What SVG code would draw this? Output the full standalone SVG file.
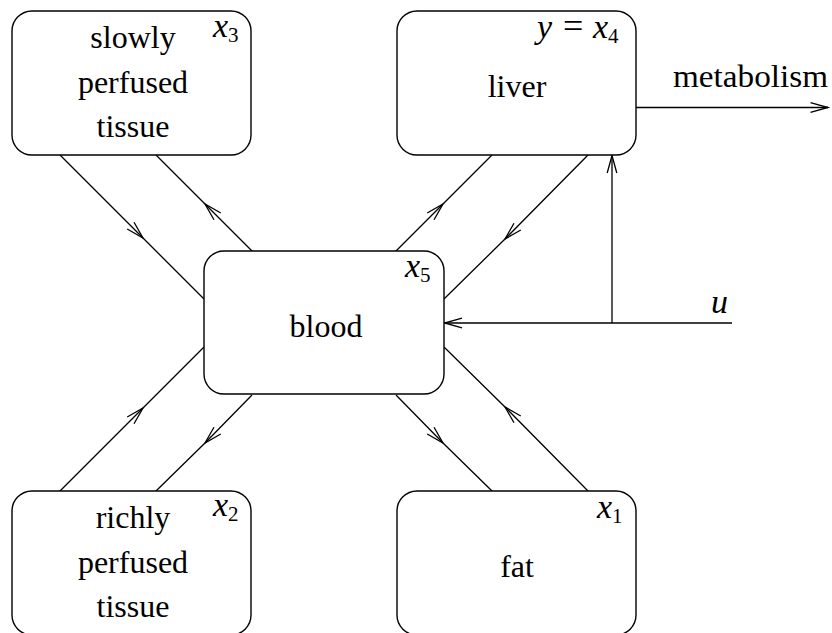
<svg xmlns="http://www.w3.org/2000/svg" width="832" height="633" viewBox="0 0 832 633" font-family="'Liberation Serif', 'DejaVu Serif', serif">
<defs>
<marker id="ah" markerUnits="userSpaceOnUse" markerWidth="40" markerHeight="40" viewBox="-20 -20 40 40" refX="0" refY="0" orient="auto" overflow="visible">
<path d="M-17.5,-4.8 L0,0 L-17.5,4.8" fill="none" stroke="#000" stroke-width="1.3"/>
</marker>
</defs>
<style>
.box{fill:#fff;stroke:#000;stroke-width:1.4}
.t{font-size:32px;fill:#000;text-anchor:middle}
.m{font-size:34px;font-style:italic;fill:#000}
.s{font-size:21px;font-style:normal;fill:#000}
.e{font-size:36px;font-style:normal;fill:#000}
.c{fill:none;stroke:#000;stroke-width:1.3}
.a{marker-mid:url(#ah)}
.ae{marker-end:url(#ah)}
</style>
<rect width="832" height="633" fill="#fff"/>
<g id="connectors">
<path class="c a" d="M60,155 L143,238 L204,299"/>
<path class="c a" d="M252,251 L205,204 L156,155"/>
<path class="c a" d="M396,251 L443,204 L492,155"/>
<path class="c a" d="M588,155 L505,239 L444,299"/>
<path class="c a" d="M60,491 L143,408 L204,347"/>
<path class="c a" d="M252,395 L205,443 L156,491"/>
<path class="c a" d="M396,395 L443,443 L492,491"/>
<path class="c a" d="M588,491 L505,407 L444,347"/>
<path class="c ae" d="M732,323 L444.5,323"/>
<path class="c ae" d="M612,323 L612,155.5"/>
<path class="c ae" d="M636,107.5 L828,107.5"/>
<text class="m" x="711" y="313">u</text>
<text x="673" y="87" font-size="32" textLength="155" lengthAdjust="spacingAndGlyphs">metabolism</text>
</g>
<g id="slowly">
<rect class="box" x="12" y="11" width="239" height="144" rx="20" ry="20"/>
<text class="t" x="133" y="48">slowly</text>
<text class="t" x="133" y="92.5">perfused</text>
<text class="t" x="133" y="137">tissue</text>
<text class="m" x="213" y="37">x<tspan class="s" dy="5">3</tspan></text>
</g>
<g id="liver">
<rect class="box" x="397" y="11" width="239" height="144" rx="20" ry="20"/>
<text class="t" x="517" y="97">liver</text>
<text class="m" x="537" y="38">y<tspan class="e" x="563">=</tspan><tspan x="593">x</tspan><tspan class="s" dy="5">4</tspan></text>
</g>
<g id="blood">
<rect class="box" x="204" y="251" width="240" height="143" rx="20" ry="20"/>
<text class="t" x="326" y="337">blood</text>
<text class="m" x="405" y="277">x<tspan class="s" dy="5">5</tspan></text>
</g>
<g id="richly">
<rect class="box" x="12" y="491" width="239" height="144" rx="20" ry="20"/>
<text class="t" x="133" y="528">richly</text>
<text class="t" x="133" y="572.5">perfused</text>
<text class="t" x="133" y="617">tissue</text>
<text class="m" x="213" y="516">x<tspan class="s" dy="5">2</tspan></text>
</g>
<g id="fat">
<rect class="box" x="397" y="491" width="239" height="144" rx="20" ry="20"/>
<text class="t" x="517" y="577">fat</text>
<text class="m" x="597" y="518">x<tspan class="s" dy="5">1</tspan></text>
</g>
</svg>
